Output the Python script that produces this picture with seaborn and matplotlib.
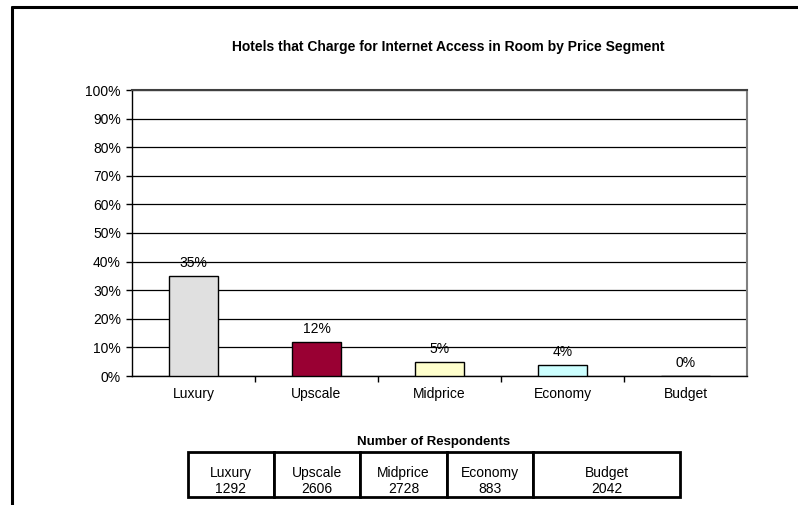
import matplotlib
matplotlib.use("Agg")
import matplotlib.pyplot as plt
from matplotlib.lines import Line2D
from matplotlib.ticker import MultipleLocator, PercentFormatter
import seaborn as sns
import pandas as pd

# Share of hotels charging for in-room internet access, by price segment
segments = ["Luxury", "Upscale", "Midprice", "Economy", "Budget"]
share_pct = [35, 12, 5, 4, 0]
bar_colors = ["#E0E0E0", "#990033", "#FFFFCC", "#CCFFFF", "#FFFFFF"]

# Number of respondents per segment
respondents = [1292, 2606, 2728, 883, 2042]

title = "Hotels that Charge for Internet Access in Room by Price Segment"
table_title = "Number of Respondents"

sns.set_theme(style="white")
plt.rcParams["font.family"] = ["Liberation Sans", "DejaVu Sans"]

W, H = 798, 505
fig = plt.figure(figsize=(W / 100, H / 100), dpi=100)
fig.patch.set_facecolor("white")


def fx(px):
    return px / W


def fy(py):
    return 1 - py / H


# outer frame (top and left edges)
fig.add_artist(Line2D([fx(12), fx(798)], [fy(7), fy(7)], color="black", lw=2.2,
                      transform=fig.transFigure))
fig.add_artist(Line2D([fx(12), fx(12)], [fy(7), fy(505)], color="black", lw=2.2,
                      transform=fig.transFigure))

# plot area in pixel coordinates
L, R, T, B = 132, 747, 90, 376
ax = fig.add_axes([fx(L), fy(B), fx(R - L), (B - T) / H])

df = pd.DataFrame({"segment": segments, "share": share_pct})
sns.barplot(data=df, x="segment", y="share", hue="segment", palette=bar_colors,
            legend=False, width=0.4, edgecolor="black", linewidth=1.0,
            saturation=1, ax=ax, zorder=3)

ax.set_xlim(-0.5, len(segments) - 0.5)
ax.set_ylim(0, 100)
ax.yaxis.set_major_locator(MultipleLocator(10))
ax.yaxis.set_major_formatter(PercentFormatter(decimals=0))
ax.grid(axis="y", color="black", linewidth=0.9, zorder=0)
ax.set_xlabel("")
ax.set_ylabel("")

# category ticks sit on the boundaries between segments
ax.set_xticks([i + 0.5 for i in range(len(segments) - 1)], minor=False)
ax.set_xticklabels([])
ax.set_xticks(range(len(segments)), minor=True)
ax.set_xticklabels(segments, minor=True)
ax.tick_params(axis="x", which="major", direction="out", length=4, width=1,
               color="black", bottom=True)
ax.tick_params(axis="x", which="minor", length=0, pad=8, labelsize=10,
               labelcolor="black")
ax.tick_params(axis="y", direction="out", length=4, width=1, color="black",
               left=True, labelsize=10, labelcolor="black", pad=4)

for side in ["left", "bottom"]:
    ax.spines[side].set_color("black")
    ax.spines[side].set_linewidth(1.0)
ax.spines["top"].set_color("#404040")
ax.spines["top"].set_linewidth(1.5)
ax.spines["right"].set_color("#808080")
ax.spines["right"].set_linewidth(1.5)

for i, v in enumerate(share_pct):
    ax.annotate(f"{v}%", xy=(i, v), xytext=(0, 4), textcoords="offset points",
                ha="center", va="bottom", fontsize=10, color="black")

fig.text(fx(448), fy(47), title, ha="center", va="center", fontsize=10,
         fontweight="bold", color="black")

# respondents table
fig.text(fx(434), fy(442), table_title, ha="center", va="center", fontsize=9.5,
         fontweight="bold", color="black")

tL, tR, tT, tB = 188, 680, 452, 497
tax = fig.add_axes([fx(tL), fy(tB), fx(tR - tL), (tB - tT) / H])
tax.axis("off")
col_px = [86, 86, 87, 86, 147]
total = sum(col_px)
widths = [c / total for c in col_px]
tbl = tax.table(cellText=[[""] * len(segments)], colWidths=widths,
                bbox=[0, 0, 1, 1])
for cell in tbl.get_celld().values():
    cell.set_linewidth(2.0)
    cell.set_edgecolor("black")

left = 0.0
for w, s, n in zip(widths, segments, respondents):
    cx = left + w / 2
    tax.text(cx, 0.53, s, ha="center", va="center", fontsize=10,
             color="black", transform=tax.transAxes)
    tax.text(cx, 0.18, str(n), ha="center", va="center", fontsize=10,
             color="black", transform=tax.transAxes)
    left += w

fig.savefig("out.png", dpi=100, facecolor="white")
